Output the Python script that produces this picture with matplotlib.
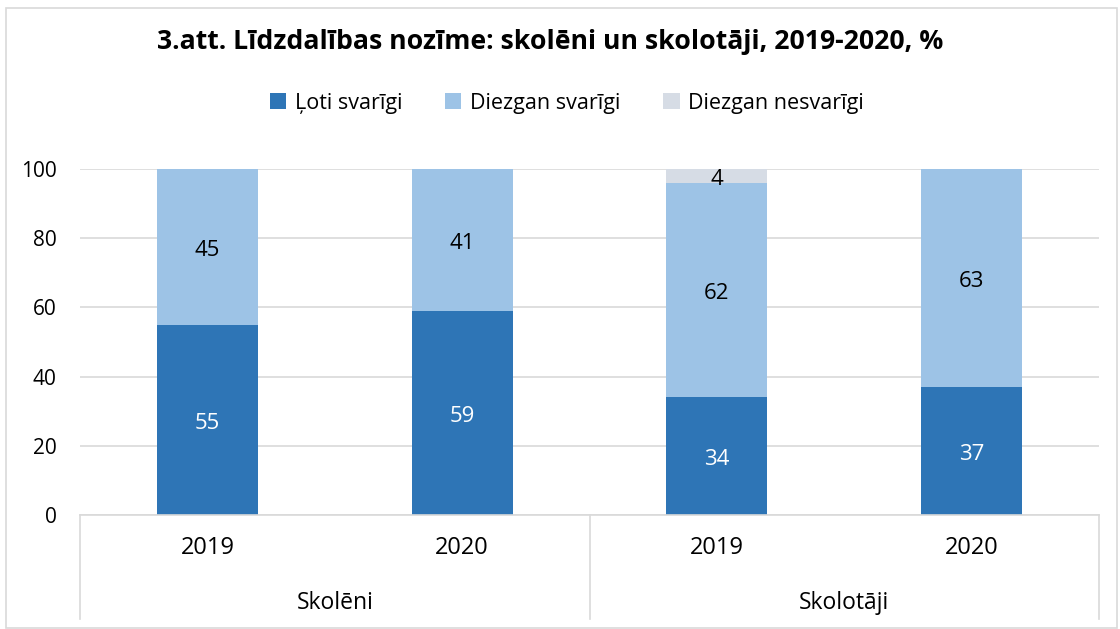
import matplotlib
matplotlib.use("Agg")
import matplotlib.pyplot as plt
from matplotlib.patches import Rectangle
from matplotlib.lines import Line2D
from matplotlib.transforms import offset_copy
import numpy as np

plt.rcParams['font.family'] = ['Open Sans', 'DejaVu Sans']

title = "3.att. Līdzdalības nozīme: skolēni un skolotāji, 2019-2020, %"
years = ["2019", "2020", "2019", "2020"]
groups = ["Skolēni", "Skolotāji"]
series_names = ["Ļoti svarīgi", "Diezgan svarīgi", "Diezgan nesvarīgi"]
loti = [55, 59, 34, 37]
diezgan = [45, 41, 62, 63]
nesvarigi = [0, 0, 4, 0]
colors = ["#2E75B6", "#9DC3E6", "#D6DCE5"]
label_colors = ["white", "black", "black"]
yticks = [0, 20, 40, 60, 80, 100]

W, H = 1120, 629
fig = plt.figure(figsize=(W / 100, H / 100), dpi=100)
fig.patches.append(Rectangle((6 / W, 0.002), (1117 - 6) / W, 1 - 8 / H - 0.002,
                             transform=fig.transFigure, fill=False,
                             edgecolor="#D9D9D9", linewidth=1.2))

left, right = 80 / W, 1099 / W
bottom, top = 1 - 515 / H, 1 - 169 / H
ax = fig.add_axes([left, bottom, right - left, top - bottom])

lab_tr = offset_copy(ax.transData, fig=fig, x=0, y=-3.5, units="dots")

x = np.arange(len(years))
data = [loti, diezgan, nesvarigi]
base = np.zeros(len(years))
handles = []
for vals, c, lc, name in zip(data, colors, label_colors, series_names):
    vals = np.array(vals, dtype=float)
    bars = ax.bar(x, vals, 0.397, bottom=base, color=c, zorder=3, label=name)
    handles.append(bars)
    for xi, v, b in zip(x, vals, base):
        if v > 0:
            ax.text(xi, b + v / 2, f"{int(v)}", ha="center", va="center",
                    fontsize=16, color=lc, zorder=4, transform=lab_tr)
    base += vals

ax.set_xlim(-0.5, len(years) - 0.5)
ax.set_ylim(0, 100)
ax.set_yticks(yticks)
ax.set_yticklabels([str(t) for t in yticks], fontsize=15)
ax.tick_params(axis="y", length=0, pad=17)
ax.set_xticks([])
ax.grid(axis="y", color="#D9D9D9", linewidth=1.2, zorder=0)
for s in ["left", "right", "top"]:
    ax.spines[s].set_visible(False)
ax.spines["bottom"].set_color("#D9D9D9")
ax.spines["bottom"].set_linewidth(1.2)
ax.spines["bottom"].set_zorder(5)

# category labels
for xi, yr in zip(x, years):
    ax.text(xi, -9.5, yr, ha="center", va="center", fontsize=17,
            clip_on=False)
for gi, g in enumerate(groups):
    ax.text(2 * gi + 0.5, -25.5, g, ha="center", va="center", fontsize=16.5,
            clip_on=False)
for xs in [-0.5, 1.5, 3.5]:
    ax.add_line(Line2D([xs, xs], [0, -30], color="#D9D9D9", linewidth=1.2,
                       clip_on=False))

fig.text(550 / W, 1 - 42 / H, title, ha="center", va="center",
         fontsize=19.2, fontweight="bold")

leg = fig.legend(handles=handles, labels=series_names, loc="center",
                 bbox_to_anchor=(567 / W, 1 - 103 / H), ncol=3, frameon=False,
                 fontsize=15.5, handlelength=0.75, handleheight=0.75,
                 handletextpad=0.4, columnspacing=2.0)

fig.savefig("out.png", dpi=100)
